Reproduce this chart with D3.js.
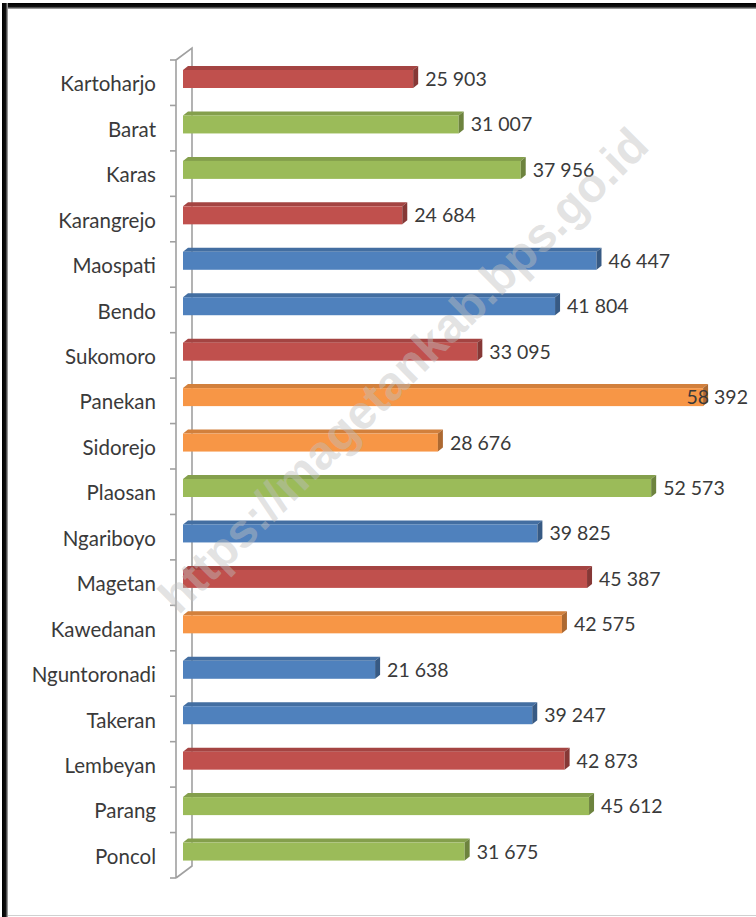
<!DOCTYPE html>
<html>
<head>
<meta charset="utf-8">
<script src="https://cdn.jsdelivr.net/npm/d3@7"></script>
<style>
  body { margin: 0; background: #fff; }
  text { font-family: Lato, "Open Sans", sans-serif; }
</style>
</head>
<body>
<div id="canvas"></div>
<script>
// Data kecamatan (dari atas ke bawah)
const categories = ["Kartoharjo", "Barat", "Karas", "Karangrejo", "Maospati", "Bendo", "Sukomoro",
  "Panekan", "Sidorejo", "Plaosan", "Ngariboyo", "Magetan", "Kawedanan", "Nguntoronadi",
  "Takeran", "Lembeyan", "Parang", "Poncol"];
const values = [25903, 31007, 37956, 24684, 46447, 41804, 33095, 58392, 28676, 52573,
  39825, 45387, 42575, 21638, 39247, 42873, 45612, 31675];
const groups = ["A", "B", "B", "A", "C", "C", "A", "D", "D", "B", "C", "A", "D", "C", "C", "A", "B", "B"];
const watermark = "https://magetankab.bps.go.id";

const width = 756, height = 917;

const svg = d3.select("#canvas").append("svg")
  .attr("width", width)
  .attr("height", height);

svg.append("rect").attr("width", width).attr("height", height).attr("fill", "#fff");

// Marco de la imagen
const defs = svg.append("defs");
const gTop = defs.append("linearGradient").attr("id", "gTop").attr("x1", 0).attr("y1", 0).attr("x2", 0).attr("y2", 1);
gTop.append("stop").attr("offset", "0%").attr("stop-color", "#000");
gTop.append("stop").attr("offset", "60%").attr("stop-color", "#111");
gTop.append("stop").attr("offset", "100%").attr("stop-color", "#bbb");
const gLeft = defs.append("linearGradient").attr("id", "gLeft").attr("x1", 0).attr("y1", 0).attr("x2", 1).attr("y2", 0);
gLeft.append("stop").attr("offset", "0%").attr("stop-color", "#000");
gLeft.append("stop").attr("offset", "60%").attr("stop-color", "#111");
gLeft.append("stop").attr("offset", "100%").attr("stop-color", "#bbb");

svg.append("rect").attr("x", 2).attr("y", 3).attr("width", width - 2).attr("height", 6).attr("fill", "url(#gTop)");
svg.append("rect").attr("x", 2).attr("y", 3).attr("width", 6).attr("height", height - 3).attr("fill", "url(#gLeft)");
svg.append("line").attr("x1", 8).attr("x2", width).attr("y1", 915.5).attr("y2", 915.5)
  .attr("stroke", "#d0d0d0").attr("stroke-width", 1);

// Escalas
const x = d3.scaleLinear().domain([0, 60000]).range([187, 187 + 60000 * 0.008924]);
const y = d3.scaleBand().domain(categories).range([60, 878]);
const color = d3.scaleOrdinal().domain(["A", "B", "C", "D"])
  .range(["#C0504D", "#9BBB59", "#4F81BD", "#F79646"]);

// Pared del eje (3D)
const wallX = 176, depthX = 16, depthY = 12;
const axisColor = "#a0a0a0";
const wall = svg.append("g").attr("stroke", axisColor).attr("stroke-width", 1.6).attr("fill", "none");
wall.append("path").attr("d",
  `M${wallX},${y.range()[1]} L${wallX},${y.range()[0]} L${wallX + depthX},${y.range()[0] - depthY} L${wallX + depthX},${y.range()[1] - depthY} L${wallX},${y.range()[1]}`);
const tickYs = categories.map(c => y(c)).concat([y.range()[1]]);
wall.selectAll("line.tick").data(tickYs).enter().append("line")
  .attr("class", "tick")
  .attr("x1", wallX - 6).attr("x2", wallX)
  .attr("y1", d => d).attr("y2", d => d);

// Etiquetas de categoria
const yAxis = svg.append("g")
  .attr("transform", `translate(${wallX},0)`)
  .call(d3.axisLeft(y).tickSize(0).tickPadding(20));
yAxis.select(".domain").remove();
yAxis.selectAll("text")
  .attr("dy", "0.42em")
  .style("font-size", "20.5px")
  .style("font-family", "Lato, sans-serif")
  .attr("fill", "#3a3a3a");

// Barras 3D
const barTop = 10, barH = 18, dx = 5, dy = 4, x0 = 183;
const rows = categories.map((c, i) => ({ name: c, value: values[i], group: groups[i] }));
const bars = svg.append("g").selectAll("g.bar").data(rows).enter().append("g").attr("class", "bar");

bars.append("path") // cara superior
  .attr("fill", d => d3.color(color(d.group)).darker(0.45))
  .attr("d", d => {
    const t = y(d.name) + barTop, xe = x(d.value);
    return `M${x0},${t} L${x0 + dx},${t - dy} L${xe},${t - dy} L${xe - dx},${t} Z`;
  });
bars.append("rect") // cara frontal
  .attr("fill", d => color(d.group))
  .attr("x", x0)
  .attr("y", d => y(d.name) + barTop)
  .attr("width", d => x(d.value) - dx - x0)
  .attr("height", barH);
bars.append("path") // cara lateral
  .attr("fill", d => d3.color(color(d.group)).darker(1))
  .attr("d", d => {
    const t = y(d.name) + barTop, xe = x(d.value);
    return `M${xe - dx},${t} L${xe},${t - dy} L${xe},${t - dy + barH} L${xe - dx},${t + barH} Z`;
  });

// Etiquetas de valor
const fmt = v => d3.format(",")(v).replace(",", " ");
const labels = svg.append("g").selectAll("text").data(rows).enter().append("text")
  .attr("y", d => y(d.name) + barTop + barH / 2)
  .attr("dy", "0.36em")
  .style("font-size", "19.5px")
  .attr("fill", "#3a3a3a")
  .text(d => fmt(d.value));
labels.each(function (d) {
  const w = this.getComputedTextLength();
  d3.select(this).attr("x", Math.min(x(d.value) + 7, 748 - w));
});

// Marca de agua
const wm = svg.append("text")
  .attr("transform", "translate(403,370) rotate(-44.7)")
  .attr("text-anchor", "middle")
  .attr("dy", "0.35em")
  .style("font-family", "Liberation Sans, Arial, sans-serif")
  .style("font-weight", "bold")
  .style("font-size", "40px")
  .attr("fill", "#bfbfbf")
  .attr("fill-opacity", 0.45)
  .text(watermark);
const wmLen = wm.node().getComputedTextLength();
wm.style("font-size", (40 * 665 / wmLen) + "px");
</script>
</body>
</html>
